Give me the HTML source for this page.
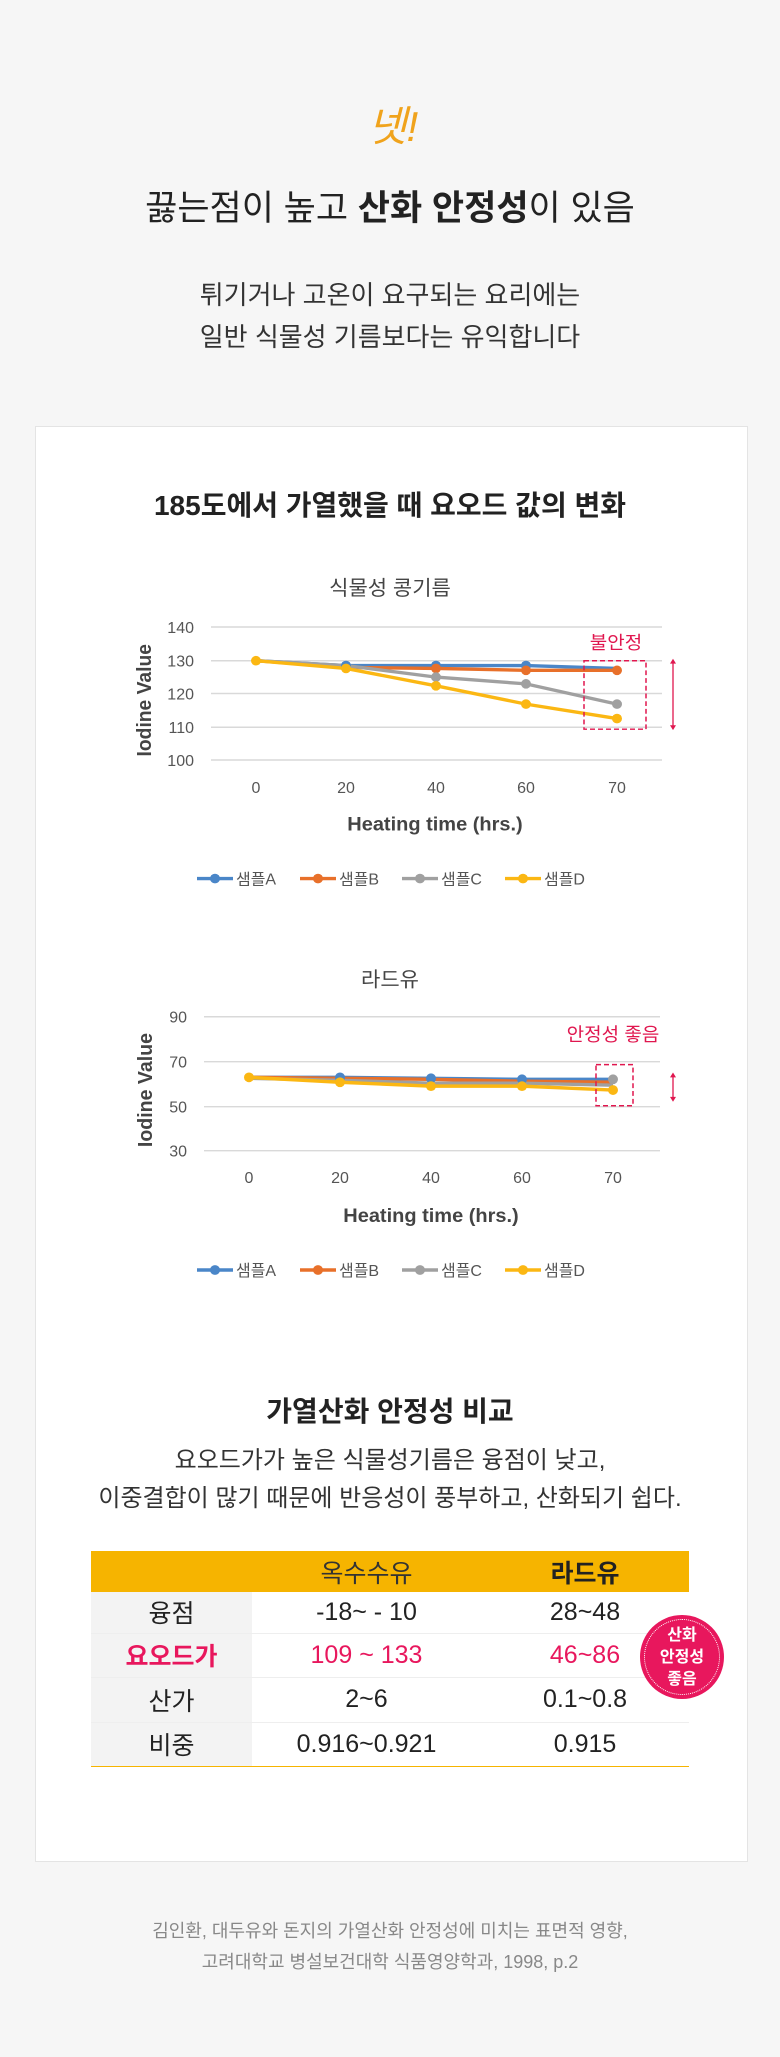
<!DOCTYPE html>
<html><head><meta charset="utf-8"><style>
body{margin:0;background:#f6f6f6;font-family:"Liberation Sans","Noto Sans CJK KR",sans-serif;}
.wrap{position:relative;width:780px;height:2057px;overflow:hidden;}
.t{position:absolute;left:0;width:780px;text-align:center;white-space:nowrap;}
.card{position:absolute;left:35px;top:426px;width:711px;height:1434px;background:#fff;border:1px solid #e4e4e4;}
table{position:absolute;left:91px;top:1551px;width:598px;border-collapse:collapse;font-size:25px;color:#222;}
td{text-align:center;padding:0;}
</style></head><body><div class="wrap">
<div class="t" style="top:93px;font-size:42px;color:#f0a31c;font-style:italic;left:3px">넷!</div>
<div class="t" style="top:180px;font-size:35px;color:#222">끓는점이 높고 <b>산화 안정성</b>이 있음</div>
<div class="t" style="top:274px;font-size:26px;color:#333;line-height:42px">튀기거나 고온이 요구되는 요리에는<br>일반 식물성 기름보다는 유익합니다</div>
<div class="card"></div>
<div class="t" style="top:484px;font-size:28px;font-weight:bold;color:#222">185도에서 가열했을 때 요오드 값의 변화</div>
<svg style="position:absolute;left:0;top:0" width="780" height="1320" font-family="Liberation Sans, Noto Sans CJK KR, sans-serif">
<g transform="translate(0,18.7) scale(1,0.964)">
<text x="390" y="598" font-size="21" text-anchor="middle" fill="#444">식물성 콩기름</text>
<g stroke="#d9d9d9" stroke-width="1.5">
<line x1="211" x2="662" y1="631" y2="631"/><line x1="211" x2="662" y1="666" y2="666"/><line x1="211" x2="662" y1="700" y2="700"/><line x1="211" x2="662" y1="735" y2="735"/><line x1="211" x2="662" y1="769" y2="769"/></g>
<g font-size="16" fill="#555" text-anchor="end"><text x="194" y="637">140</text><text x="194" y="672">130</text><text x="194" y="706">120</text><text x="194" y="741">110</text><text x="194" y="775">100</text></g>
<g font-size="16" fill="#555" text-anchor="middle"><text x="256" y="803">0</text><text x="346" y="803">20</text><text x="436" y="803">40</text><text x="526" y="803">60</text><text x="617" y="803">70</text></g>
<text x="435" y="842" font-size="20" font-weight="bold" fill="#444" text-anchor="middle">Heating time (hrs.)</text>
<text transform="translate(151,707) rotate(-90)" font-size="20" font-weight="bold" fill="#444" text-anchor="middle">Iodine Value</text>
<g stroke-width="3.5" fill="none">
<polyline stroke="#4a86c8" points="256,666 346,671 436,671 526,671 617,674"/>
<polyline stroke="#e8702a" points="256,666 346,673 436,674 526,676 617,676"/>
<polyline stroke="#a0a0a0" points="256,666 346,671 436,683 526,690 617,711"/>
<polyline stroke="#fbb713" points="256,666 346,674 436,692 526,711 617,726"/></g>
<g><circle cx="346" cy="671" r="5" fill="#4a86c8"/><circle cx="436" cy="671" r="5" fill="#4a86c8"/><circle cx="526" cy="671" r="5" fill="#4a86c8"/>
<circle cx="617" cy="676" r="5" fill="#e8702a"/><circle cx="436" cy="674" r="5" fill="#e8702a"/><circle cx="526" cy="676" r="5" fill="#e8702a"/>
<circle cx="436" cy="683" r="5" fill="#a0a0a0"/><circle cx="526" cy="690" r="5" fill="#a0a0a0"/><circle cx="617" cy="711" r="5" fill="#a0a0a0"/>
<circle cx="256" cy="666" r="5" fill="#fbb713"/><circle cx="346" cy="674" r="5" fill="#fbb713"/><circle cx="436" cy="692" r="5" fill="#fbb713"/><circle cx="526" cy="711" r="5" fill="#fbb713"/><circle cx="617" cy="726" r="5" fill="#fbb713"/></g>
<text x="616" y="654" font-size="19" fill="#e0174f" text-anchor="middle">불안정</text>
<rect x="584" y="666" width="62" height="71" fill="none" stroke="#e0174f" stroke-width="1.5" stroke-dasharray="5,3"/>
<line x1="673" y1="667" x2="673" y2="735" stroke="#e0174f" stroke-width="1.3"/>
<path d="M670,669 L673,664 L676,669Z M670,733 L673,738 L676,733Z" fill="#e0174f"/>
<g font-size="16" fill="#555">
<line x1="197" x2="233" y1="892" y2="892" stroke="#4a86c8" stroke-width="3.5"/><circle cx="215" cy="892" r="5" fill="#4a86c8"/><text x="236" y="898">샘플A</text>
<line x1="300" x2="336" y1="892" y2="892" stroke="#e8702a" stroke-width="3.5"/><circle cx="318" cy="892" r="5" fill="#e8702a"/><text x="339" y="898">샘플B</text>
<line x1="402" x2="438" y1="892" y2="892" stroke="#a0a0a0" stroke-width="3.5"/><circle cx="420" cy="892" r="5" fill="#a0a0a0"/><text x="441" y="898">샘플C</text>
<line x1="505" x2="541" y1="892" y2="892" stroke="#fbb713" stroke-width="3.5"/><circle cx="523" cy="892" r="5" fill="#fbb713"/><text x="544" y="898">샘플D</text></g>
</g>
<g transform="translate(0,3.5) scale(1,0.978)">
<text x="390" y="1005" font-size="21" text-anchor="middle" fill="#444">라드유</text>
<g stroke="#d9d9d9" stroke-width="1.5">
<line x1="204" x2="660" y1="1036" y2="1036"/><line x1="204" x2="660" y1="1082" y2="1082"/><line x1="204" x2="660" y1="1128" y2="1128"/><line x1="204" x2="660" y1="1173" y2="1173"/></g>
<g font-size="16" fill="#555" text-anchor="end"><text x="187" y="1042">90</text><text x="187" y="1088">70</text><text x="187" y="1134">50</text><text x="187" y="1179">30</text></g>
<g font-size="16" fill="#555" text-anchor="middle"><text x="249" y="1206">0</text><text x="340" y="1206">20</text><text x="431" y="1206">40</text><text x="522" y="1206">60</text><text x="613" y="1206">70</text></g>
<text x="431" y="1246" font-size="20" font-weight="bold" fill="#444" text-anchor="middle">Heating time (hrs.)</text>
<text transform="translate(152,1111) rotate(-90)" font-size="20" font-weight="bold" fill="#444" text-anchor="middle">Iodine Value</text>
<g stroke-width="3.5" fill="none">
<polyline stroke="#4a86c8" points="249,1098 340,1098 431,1099 522,1100 613,1100"/>
<polyline stroke="#e8702a" points="249,1098 340,1099 431,1100 522,1102 613,1103"/>
<polyline stroke="#a0a0a0" points="249,1099 340,1101 431,1104 522,1104 613,1106"/>
<polyline stroke="#fbb713" points="249,1098 340,1103 431,1107 522,1107 613,1111"/></g>
<g><circle cx="340" cy="1098" r="5" fill="#4a86c8"/><circle cx="431" cy="1099" r="5" fill="#4a86c8"/><circle cx="522" cy="1100" r="5" fill="#4a86c8"/><circle cx="613" cy="1100" r="5" fill="#a0a0a0"/>
<circle cx="249" cy="1098" r="5" fill="#fbb713"/><circle cx="340" cy="1103" r="5" fill="#fbb713"/><circle cx="431" cy="1107" r="5" fill="#fbb713"/><circle cx="522" cy="1107" r="5" fill="#fbb713"/><circle cx="613" cy="1111" r="5" fill="#fbb713"/></g>
<text x="613" y="1061" font-size="19" fill="#e0174f" text-anchor="middle">안정성 좋음</text>
<rect x="596" y="1085" width="37" height="42" fill="none" stroke="#e0174f" stroke-width="1.5" stroke-dasharray="5,3"/>
<line x1="673" y1="1096" x2="673" y2="1120" stroke="#e0174f" stroke-width="1.3"/>
<path d="M670,1098 L673,1093 L676,1098Z M670,1118 L673,1123 L676,1118Z" fill="#e0174f"/>
<g font-size="16" fill="#555">
<line x1="197" x2="233" y1="1295" y2="1295" stroke="#4a86c8" stroke-width="3.5"/><circle cx="215" cy="1295" r="5" fill="#4a86c8"/><text x="236" y="1301">샘플A</text>
<line x1="300" x2="336" y1="1295" y2="1295" stroke="#e8702a" stroke-width="3.5"/><circle cx="318" cy="1295" r="5" fill="#e8702a"/><text x="339" y="1301">샘플B</text>
<line x1="402" x2="438" y1="1295" y2="1295" stroke="#a0a0a0" stroke-width="3.5"/><circle cx="420" cy="1295" r="5" fill="#a0a0a0"/><text x="441" y="1301">샘플C</text>
<line x1="505" x2="541" y1="1295" y2="1295" stroke="#fbb713" stroke-width="3.5"/><circle cx="523" cy="1295" r="5" fill="#fbb713"/><text x="544" y="1301">샘플D</text></g>
</g>
</svg>
<div class="t" style="top:1390px;font-size:28px;font-weight:bold;color:#222">가열산화 안정성 비교</div>
<div class="t" style="top:1442px;font-size:24px;color:#333;line-height:38px">요오드가가 높은 식물성기름은 융점이 낮고,<br>이중결합이 많기 때문에 반응성이 풍부하고, 산화되기 쉽다.</div>
<table>
<tr style="background:#f6b400;height:41px"><td style="width:161px"></td><td style="width:229px;color:#333">옥수수유</td><td style="font-weight:bold">라드유</td></tr>
<tr style="height:41px;border-bottom:1px solid #eee"><td style="background:#f3f3f3">융점</td><td>-18~ - 10</td><td>28~48</td></tr>
<tr style="height:44px;border-bottom:1px solid #eee;color:#e8175d"><td style="background:#f3f3f3;font-weight:bold">요오드가</td><td>109 ~ 133</td><td>46~86</td></tr>
<tr style="height:45px;border-bottom:1px solid #eee"><td style="background:#f3f3f3">산가</td><td>2~6</td><td>0.1~0.8</td></tr>
<tr style="height:44px;border-bottom:1px solid #f6b400"><td style="background:#f3f3f3">비중</td><td>0.916~0.921</td><td>0.915</td></tr>
</table>
<div style="position:absolute;left:640px;top:1615px;width:84px;height:84px;border-radius:50%;background:#e8175d;"></div>
<div style="position:absolute;left:644px;top:1619px;width:76px;height:76px;border-radius:50%;border:1px dotted #fff;color:#fff;font-size:16px;font-weight:bold;text-align:center;line-height:22px;box-sizing:border-box;padding-top:5px">산화<br>안정성<br>좋음</div>
<div class="t" style="top:1916px;font-size:18px;color:#888;line-height:31px">김인환, 대두유와 돈지의 가열산화 안정성에 미치는 표면적 영향,<br>고려대학교 병설보건대학 식품영양학과, 1998, p.2</div>
</div></body></html>
